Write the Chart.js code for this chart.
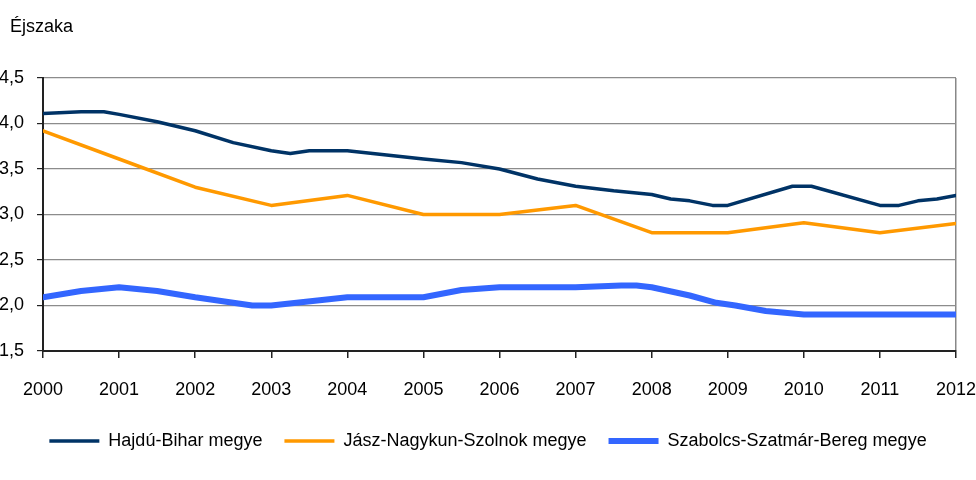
<!DOCTYPE html>
<html>
<head>
<meta charset="utf-8">
<script src="https://cdn.jsdelivr.net/npm/chart.js@4/dist/chart.umd.min.js"></script>
<style>
  body { margin: 0; background: #fff; }
  #wrap { position: relative; width: 976px; height: 480px; }
  #title { position: absolute; left: 10px; top: 17px; font: 18px/1 'Liberation Sans', Arial, sans-serif; color: #000; }
  canvas { display: block; }
</style>
</head>
<body>
<div id="wrap">
  <canvas id="chart" width="976" height="480"></canvas>
  <div id="title">Éjszaka</div>
</div>
<script>
// Éjszaka - megyei adatok 2000-2012
const hajduX = [2000, 2000.5, 2000.8, 2001, 2001.5, 2002, 2002.5, 2003, 2003.25, 2003.5, 2004, 2005, 2005.5, 2006, 2006.5, 2007, 2007.5, 2008, 2008.25, 2008.5, 2008.8, 2009, 2009.85, 2010.1, 2011, 2011.25, 2011.5, 2011.75, 2012];
const hajduY = [4.11, 4.13, 4.13, 4.10, 4.02, 3.92, 3.79, 3.70, 3.67, 3.70, 3.70, 3.61, 3.57, 3.50, 3.39, 3.31, 3.26, 3.22, 3.17, 3.15, 3.10, 3.10, 3.31, 3.31, 3.10, 3.10, 3.15, 3.17, 3.21];

const jaszX = [2000, 2001, 2002, 2003, 2004, 2005, 2006, 2007, 2008, 2009, 2010, 2011, 2012];
const jaszY = [3.92, 3.61, 3.30, 3.10, 3.21, 3.00, 3.00, 3.10, 2.80, 2.80, 2.91, 2.80, 2.90];

const szabX = [2000, 2000.5, 2001, 2001.5, 2002, 2002.75, 2003, 2004, 2005, 2005.5, 2006, 2007, 2007.6, 2007.8, 2008, 2008.5, 2008.85, 2009.1, 2009.5, 2010, 2011, 2012];
const szabY = [2.09, 2.16, 2.20, 2.16, 2.09, 2.00, 2.00, 2.09, 2.09, 2.17, 2.20, 2.20, 2.22, 2.22, 2.20, 2.11, 2.03, 2.00, 1.94, 1.90, 1.90, 1.90];

const seriesNames = ['Hajdú-Bihar megye', 'Jász-Nagykun-Szolnok megye', 'Szabolcs-Szatmár-Bereg megye'];

function toPoints(xs, ys) {
    return xs.map((x, i) => ({ x: x, y: ys[i] }));
}

function makeSet(label, xs, ys, color, width) {
    return {
        label: label,
        data: toPoints(xs, ys),
        borderColor: color,
        backgroundColor: color,
        borderWidth: width,
        borderJoinStyle: 'round',
        borderCapStyle: 'round',
        pointRadius: 0,
        tension: 0,
        fill: false
    };
}

const font = "'Liberation Sans', Arial, sans-serif";

new Chart(document.getElementById('chart'), {
    type: 'line',
    data: {
        datasets: [
            makeSet(seriesNames[0], hajduX, hajduY, '#003366', 3.5),
            makeSet(seriesNames[1], jaszX, jaszY, '#ff9900', 3.5),
            makeSet(seriesNames[2], szabX, szabY, '#3366ff', 6)
        ]
    },
    options: {
        responsive: false,
        animation: false,
        layout: { padding: { left: 0, right: 0, top: 78, bottom: 20 } },
        plugins: {
            legend: {
                position: 'bottom',
                labels: {
                    usePointStyle: true,
                    pointStyle: 'line',
                    pointStyleWidth: 50,
                    color: '#000',
                    padding: 22,
                    font: { family: font, size: 18 }
                }
            },
            tooltip: { enabled: false }
        },
        scales: {
            x: {
                type: 'linear',
                min: 2000,
                max: 2012,
                afterFit: s => { s.height = 59; s.paddingRight = 20; s.paddingLeft = 0; },
                ticks: {
                    stepSize: 1,
                    color: '#000',
                    padding: 21,
                    maxRotation: 0,
                    font: { family: font, size: 18 },
                    callback: v => String(v)
                },
                grid: {
                    drawOnChartArea: true,
                    color: ctx => (ctx.index === 12 ? '#888' : 'rgba(0,0,0,0)'),
                    tickColor: '#222',
                    tickLength: 7,
                    lineWidth: 1.5
                },
                border: { color: '#222', width: 2 }
            },
            y: {
                min: 1.5,
                max: 4.5,
                afterFit: s => { s.width = 43; },
                ticks: {
                    stepSize: 0.5,
                    color: '#000',
                    padding: 13,
                    font: { family: font, size: 18 },
                    callback: v => v.toFixed(1).replace('.', ',')
                },
                grid: {
                    color: '#8c8c8c',
                    tickColor: '#222',
                    tickLength: 6,
                    lineWidth: 1.2
                },
                border: { color: '#222', width: 2 }
            }
        }
    }
});
</script>
</body>
</html>
